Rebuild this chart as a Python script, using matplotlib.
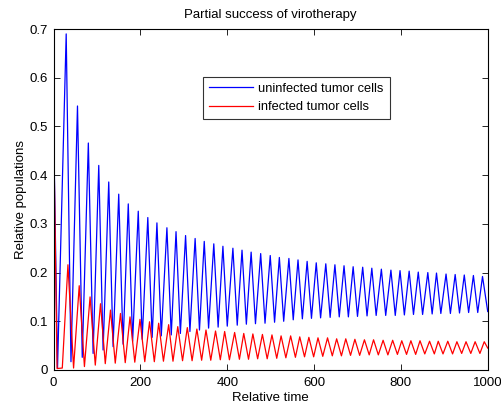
import matplotlib
matplotlib.use("Agg")
import matplotlib.pyplot as plt
import numpy as np

plt.rcParams['font.family'] = ['Liberation Sans', 'DejaVu Sans']

# values (extrema of each oscillation)
blue_start_t = [0, 9]
blue_start_v = [0.5, 0.004]
blue_peak_t = [29, 55, 80, 104, 127, 150, 172, 195, 217, 238, 261, 282, 304, 326, 347,
               369, 390, 413, 434, 455, 477, 499, 520, 542, 563, 584, 605, 627, 648, 669,
               690, 712, 733, 755, 777, 798, 819, 840, 862, 882, 904, 925, 946, 967, 988]
blue_peak_v = [0.690, 0.542, 0.466, 0.420, 0.386, 0.361, 0.341, 0.326, 0.313, 0.302,
               0.292, 0.284, 0.276, 0.270, 0.264, 0.259, 0.254, 0.250, 0.246, 0.242,
               0.239, 0.235, 0.231, 0.229, 0.226, 0.223, 0.220, 0.218, 0.216, 0.214,
               0.212, 0.211, 0.209, 0.207, 0.205, 0.204, 0.203, 0.201, 0.200, 0.199,
               0.197, 0.196, 0.195, 0.194, 0.192]
blue_trough_t = [40, 66, 91, 114, 137, 160, 182, 204, 227, 248, 271, 292, 314, 336, 357,
                 379, 400, 423, 444, 465, 487, 509, 530, 552, 573, 594, 615, 637, 658, 679,
                 700, 722, 743, 765, 787, 808, 829, 850, 872, 892, 914, 935, 956, 977, 1000]
blue_trough_v = [0.017, 0.026, 0.034, 0.041, 0.048, 0.053, 0.059, 0.063, 0.067, 0.070,
                 0.072, 0.075, 0.079, 0.082, 0.086, 0.088, 0.090, 0.092, 0.094, 0.095,
                 0.096, 0.098, 0.100, 0.103, 0.105, 0.106, 0.107, 0.108, 0.109, 0.109,
                 0.110, 0.111, 0.112, 0.112, 0.112, 0.113, 0.114, 0.114, 0.115, 0.116,
                 0.116, 0.117, 0.118, 0.118, 0.120]

red_start_t = [0, 8, 20]
red_start_v = [0.5, 0.003, 0.004]
red_peak_t = [33, 59, 84, 108, 131, 154, 176, 199, 221, 242, 265, 286, 308, 330, 351,
              373, 394, 417, 438, 459, 481, 503, 524, 546, 567, 588, 609, 631, 652, 673,
              694, 716, 737, 759, 781, 802, 823, 844, 866, 886, 908, 929, 950, 971, 992]
red_peak_v = [0.216, 0.173, 0.150, 0.136, 0.123, 0.116, 0.109, 0.104, 0.099, 0.096,
              0.093, 0.089, 0.087, 0.084, 0.082, 0.080, 0.079, 0.077, 0.075, 0.074,
              0.073, 0.072, 0.070, 0.070, 0.068, 0.067, 0.066, 0.066, 0.064, 0.064,
              0.063, 0.062, 0.062, 0.061, 0.061, 0.060, 0.060, 0.060, 0.059, 0.059,
              0.059, 0.058, 0.058, 0.058, 0.058]
red_trough_t = [46, 71, 96, 119, 142, 165, 187, 210, 232, 253, 275, 297, 319, 341, 362,
                384, 405, 428, 449, 470, 492, 514, 535, 557, 578, 599, 620, 642, 663, 684,
                705, 727, 748, 770, 792, 813, 834, 855, 877, 897, 919, 940, 961, 982, 1000]
red_trough_v = [0.004, 0.007, 0.010, 0.013, 0.014, 0.015, 0.016, 0.017, 0.017, 0.018,
                0.018, 0.019, 0.019, 0.020, 0.020, 0.021, 0.021, 0.022, 0.022, 0.023,
                0.023, 0.024, 0.025, 0.026, 0.027, 0.027, 0.028, 0.029, 0.029, 0.030,
                0.030, 0.031, 0.031, 0.031, 0.032, 0.032, 0.032, 0.033, 0.033, 0.033,
                0.033, 0.034, 0.034, 0.034, 0.045]


def weave(start_t, start_v, pk_t, pk_v, tr_t, tr_v):
    # peak, trough, peak, trough ... after the start segment
    t = list(start_t) + [x for pair in zip(pk_t, tr_t) for x in pair]
    v = list(start_v) + [x for pair in zip(pk_v, tr_v) for x in pair]
    return np.array(t), np.array(v)


bt, bv = weave(blue_start_t, blue_start_v, blue_peak_t, blue_peak_v, blue_trough_t, blue_trough_v)
rt, rv = weave(red_start_t, red_start_v, red_peak_t, red_peak_v, red_trough_t, red_trough_v)

fig = plt.figure(figsize=(5.01, 4.09), dpi=100)
ax = fig.add_axes([0.107, 0.0954, 0.8665, 0.8336])

ax.plot(bt, bv, color=(0, 0, 1), lw=0.9, label='uninfected tumor cells')
ax.plot(rt, rv, color=(1, 0, 0), lw=0.9, label='infected tumor cells')

ax.set_xlim(0, 1000)
ax.set_ylim(0, 0.7)
ax.set_xticks(np.arange(0, 1001, 200))
ax.set_yticks(np.arange(0, 0.71, 0.1))
ax.set_yticklabels(['0', '0.1', '0.2', '0.3', '0.4', '0.5', '0.6', '0.7'])
ax.tick_params(direction='in', top=True, right=True, length=4, width=0.6,
               labelsize=9.5)
ax.tick_params(axis='x', pad=5)
ax.tick_params(axis='y', pad=4)
for s in ax.spines.values():
    s.set_linewidth(0.8)

ax.set_title('Partial success of virotherapy', fontsize=9.5, pad=8)
ax.set_xlabel('Relative time', fontsize=9.5, labelpad=2)
ax.set_ylabel('Relative populations', fontsize=9.5, labelpad=1.5)

leg = ax.legend(loc='upper left', bbox_to_anchor=(0.344, 0.859), fontsize=9.3,
                frameon=True, fancybox=False, handlelength=3.4, borderpad=0.45,
                labelspacing=0.5, handletextpad=0.45, borderaxespad=0)
leg.get_frame().set_edgecolor('black')
leg.get_frame().set_linewidth(0.8)

fig.savefig('out.png', dpi=100)
